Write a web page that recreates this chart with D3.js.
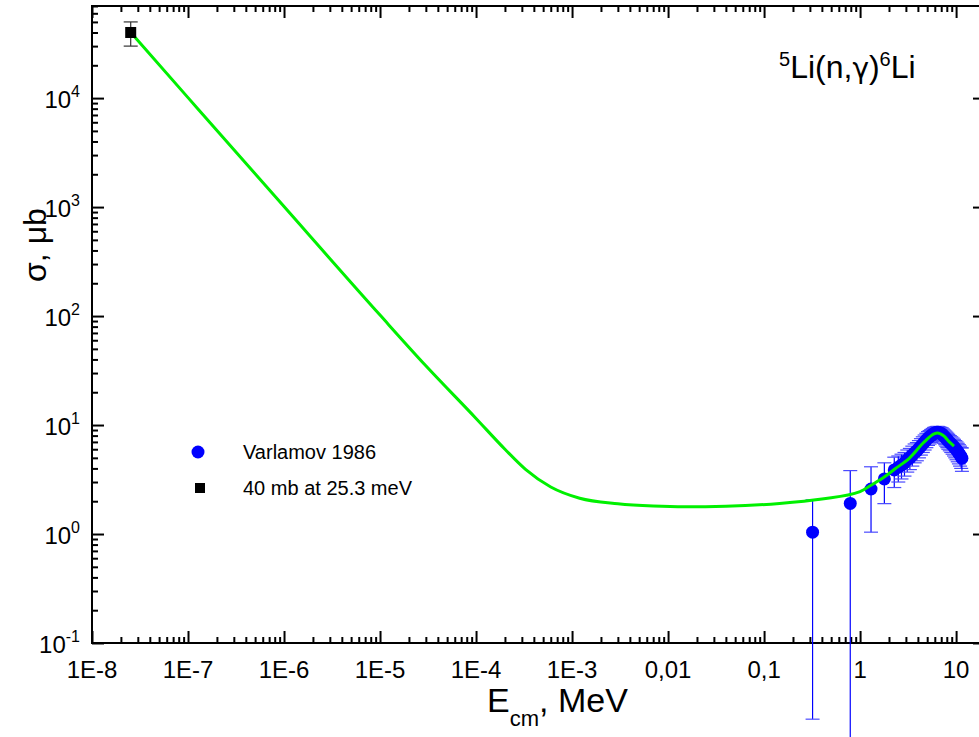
<!DOCTYPE html>
<html><head><meta charset="utf-8">
<script src="https://cdn.jsdelivr.net/npm/d3@7"></script>
<style>body{margin:0;background:#fff}svg{display:block;overflow:visible}</style>
</head><body><svg id="c" width="979" height="737"></svg>
<script>
// ---- data ----
const xTickValues = [1e-8,1e-7,1e-6,1e-5,1e-4,1e-3,0.01,0.1,1,10];
const xTickLabels = ["1E-8","1E-7","1E-6","1E-5","1E-4","1E-3","0,01","0,1","1","10"];
const yTickValues = [0.1,1,10,100,1000,10000];
const yTickExps = ["-1","0","1","2","3","4"];

// Varlamov 1986 (E_cm MeV, sigma microbarn, error)
const varE = [0.32,0.79,1.30,1.79,2.27,2.5,2.7,2.9,3.1,3.3,3.5,3.7,3.9,4.1,4.3,4.5,4.7,4.9,5.1,5.3,5.5,5.7,5.9,6.1,6.3,6.5,6.7,6.9,7.1,7.3,7.5,7.7,7.9,8.1,8.3,8.6,8.9,9.2,9.5,9.8,10.1,10.4,10.7,11.0,11.3,11.5];
const varS = [1.04,1.91,2.59,3.2,3.87,4.1,4.3,4.5,4.8,5.0,5.3,5.6,5.8,6.1,6.4,6.7,7.0,7.3,7.6,7.8,8.0,8.2,8.4,8.5,8.6,8.6,8.5,8.4,8.3,8.1,7.9,7.7,7.5,7.3,7.1,6.9,6.7,6.5,6.3,6.1,5.9,5.7,5.5,5.3,5.1,4.96];
const varErr = [1.02,1.909,1.55,1.3,1.2,1.1,1.1,1.1,1.1,1.1,1.1,1.1,1.1,1.1,1.1,1.1,1.1,1.1,1.1,1.1,1.1,1.1,1.1,1.1,1.1,1.1,1.1,1.1,1.1,1.1,1.1,1.1,1.1,1.1,1.1,1.1,1.1,1.1,1.1,1.1,1.1,1.1,1.1,1.1,1.1,1.2];

// thermal point: 40 mb at 25.3 meV
const thermE = [2.53e-8];
const thermS = [40000];
const thermErr = [10000];

// calculated curve
const fitE = [2.53e-8,1e-7,1e-6,1e-5,3e-5,1e-4,2e-4,3.3e-4,6e-4,1.2e-3,3e-3,7e-3,0.015,0.04,0.145,0.4,1.0,1.3,1.8,2.3,3.25,4.66,5.9,6.4,7.5,8.5,9.5];
const fitS = [40000,10100,1010,102,35,11.5,6.0,3.9,2.7,2.13,1.9,1.81,1.78,1.8,1.91,2.1,2.45,2.8,3.35,3.95,4.95,7.0,8.3,8.45,7.9,7.0,6.4];

const legendLabels = ["Varlamov 1986","40 mb at 25.3 meV"];

// ---- drawing ----
const FONT = "'Liberation Sans', Arial, Helvetica, sans-serif";
const svg = d3.select("#c");
const L = 92, R = 985, T = 6, B = 643;
const x = d3.scaleLog().domain([1e-8, 20]).range([L, R]);
const y = d3.scaleLog().domain([0.1, 7e4]).range([B, T]);

const isMajor = v => Math.abs(Math.log10(v) - Math.round(Math.log10(v))) < 1e-9;
const xMinor = x.ticks().filter(v => !isMajor(v));
const yMinor = y.ticks().filter(v => !isMajor(v));

function styleAxis(g){
  g.select(".domain").remove();
  g.selectAll("line").attr("stroke","#000").attr("stroke-width",2);
  g.selectAll("text").remove();
}
// bottom
svg.append("g").attr("transform",`translate(0,${B})`)
  .call(d3.axisBottom(x).tickValues(xMinor).tickSizeInner(-6).tickSizeOuter(0).tickFormat("")).call(styleAxis);
svg.append("g").attr("transform",`translate(0,${B})`)
  .call(d3.axisBottom(x).tickValues(xTickValues).tickSizeInner(-12).tickSizeOuter(0).tickFormat("")).call(styleAxis);
// top
svg.append("g").attr("transform",`translate(0,${T})`)
  .call(d3.axisTop(x).tickValues(xMinor).tickSizeInner(-6).tickSizeOuter(0).tickFormat("")).call(styleAxis);
svg.append("g").attr("transform",`translate(0,${T})`)
  .call(d3.axisTop(x).tickValues(xTickValues).tickSizeInner(-12).tickSizeOuter(0).tickFormat("")).call(styleAxis);
// left
svg.append("g").attr("transform",`translate(${L},0)`)
  .call(d3.axisLeft(y).tickValues(yMinor).tickSizeInner(-6).tickSizeOuter(0).tickFormat("")).call(styleAxis);
svg.append("g").attr("transform",`translate(${L},0)`)
  .call(d3.axisLeft(y).tickValues(yTickValues).tickSizeInner(-12).tickSizeOuter(0).tickFormat("")).call(styleAxis);
// right
svg.append("g").attr("transform",`translate(${R},0)`)
  .call(d3.axisRight(y).tickValues(yMinor).tickSizeInner(-6).tickSizeOuter(0).tickFormat("")).call(styleAxis);
svg.append("g").attr("transform",`translate(${R},0)`)
  .call(d3.axisRight(y).tickValues(yTickValues).tickSizeInner(-12).tickSizeOuter(0).tickFormat("")).call(styleAxis);

// frame
svg.append("rect").attr("x",L).attr("y",T).attr("width",R-L).attr("height",B-T)
  .attr("fill","none").attr("stroke","#000").attr("stroke-width",2);

// x tick labels
svg.append("g").selectAll("text").data(xTickValues).join("text")
  .attr("x",d=>x(d)).attr("y",B+35).attr("text-anchor","middle")
  .attr("font-family",FONT).attr("font-size",24).attr("fill","#000")
  .text((d,i)=>xTickLabels[i]);

// y tick labels
const yl = svg.append("g").selectAll("text").data(yTickValues).join("text")
  .attr("x",L-12).attr("y",d=>y(d)+10).attr("text-anchor","end")
  .attr("font-family",FONT).attr("font-size",24).attr("fill","#000");
yl.append("tspan").text("10");
yl.append("tspan").attr("dy",-11).attr("font-size",16).text((d,i)=>yTickExps[i]);

// axis titles
const xt = svg.append("text").attr("x",487).attr("y",712).attr("font-family",FONT).attr("font-size",34).attr("fill","#000");
xt.append("tspan").text("E");
xt.append("tspan").attr("dy",14).attr("font-size",22).text("cm");
xt.append("tspan").attr("dy",-14).text(", MeV");

svg.append("text").attr("transform","translate(46,245) rotate(-90)").attr("text-anchor","middle")
  .attr("font-family",FONT).attr("font-size",32).attr("fill","#000").text("σ, μb");

// title
const tt = svg.append("text").attr("x",779).attr("y",78).attr("font-family",FONT).attr("font-size",32).attr("fill","#000");
tt.append("tspan").attr("dy",-12).attr("font-size",20).text("5");
tt.append("tspan").attr("dy",12).text("Li(n,");
tt.append("tspan").attr("font-family","'DejaVu Sans', sans-serif").attr("font-size",28).text("γ");
tt.append("tspan").text(")");
tt.append("tspan").attr("dy",-12).attr("font-size",20).text("6");
tt.append("tspan").attr("dy",12).text("Li");

// Varlamov data
const vdata = varE.map((e,i)=>({e, s:varS[i], err:varErr[i]}));
const eb = svg.append("g").attr("stroke","#0000ff").attr("stroke-width",1.2);
vdata.forEach(d=>{
  const cx = x(d.e), y1 = y(d.s + d.err), y0 = y(Math.max(d.s - d.err, 1e-4));
  eb.append("line").attr("x1",cx).attr("x2",cx).attr("y1",y1).attr("y2",y0);
  eb.append("line").attr("x1",cx-7).attr("x2",cx+7).attr("y1",y1).attr("y2",y1).attr("stroke","#4a4aff");
  eb.append("line").attr("x1",cx-7).attr("x2",cx+7).attr("y1",y0).attr("y2",y0).attr("stroke","#4a4aff");
});
svg.append("g").selectAll("circle").data(vdata).join("circle")
  .attr("cx",d=>x(d.e)).attr("cy",d=>y(d.s)).attr("r",6.5).attr("fill","#0000ff");

// curve
const line = d3.line().x(d=>x(d[0])).y(d=>y(d[1])).curve(d3.curveMonotoneX);
svg.append("path").datum(fitE.map((e,i)=>[e,fitS[i]])).attr("d",line)
  .attr("fill","none").attr("stroke","#00f000").attr("stroke-width",3);

// thermal point
const tdata = thermE.map((e,i)=>({e, s:thermS[i], err:thermErr[i]}));
tdata.forEach(d=>{
  const cx = x(d.e), y1 = y(d.s+d.err), y0 = y(d.s-d.err);
  const g = svg.append("g").attr("stroke","#333").attr("stroke-width",1.2);
  g.append("line").attr("x1",cx).attr("x2",cx).attr("y1",y1).attr("y2",y0);
  g.append("line").attr("x1",cx-7).attr("x2",cx+7).attr("y1",y1).attr("y2",y1);
  g.append("line").attr("x1",cx-7).attr("x2",cx+7).attr("y1",y0).attr("y2",y0);
  svg.append("rect").attr("x",cx-5.5).attr("y",y(d.s)-5.5).attr("width",11).attr("height",11).attr("fill","#000");
});

// legend
const lg = svg.append("g");
lg.append("circle").attr("cx",198).attr("cy",452).attr("r",6.5).attr("fill","#0000ff");
lg.append("rect").attr("x",195).attr("y",483).attr("width",10).attr("height",10).attr("fill","#000");
lg.selectAll("text").data(legendLabels).join("text")
  .attr("x",243).attr("y",(d,i)=>459+i*36).attr("font-family",FONT).attr("font-size",20).attr("fill","#000").text(d=>d);
</script></body></html>
